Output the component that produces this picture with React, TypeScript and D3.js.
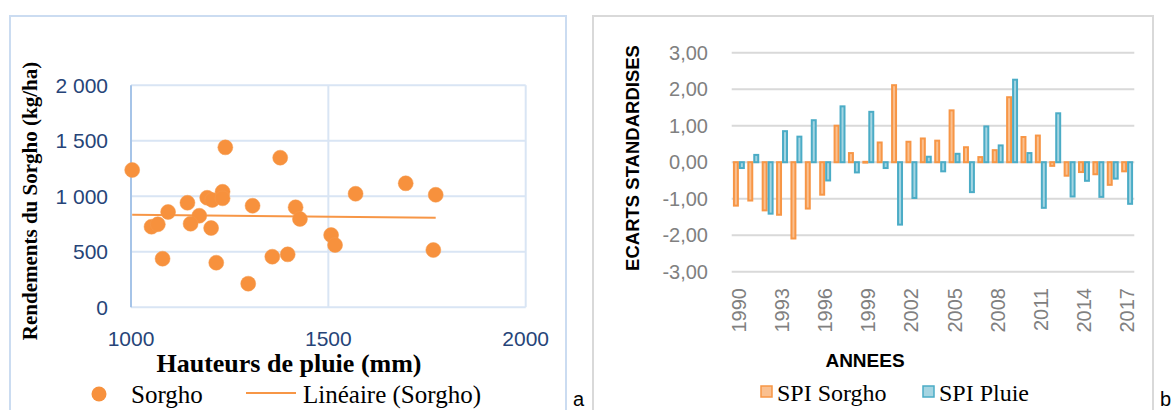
import React from "react";
import * as d3 from "d3";

// ---------- Chart a : scatter ----------
const rainfall = [1003, 1239, 1378, 1143, 1193, 1206, 1232, 1232, 1094, 1173, 1308, 1417, 1428, 1052, 1068, 1151, 1203, 1080, 1216, 1297, 1358, 1397, 1507, 1517, 1569, 1696, 1772, 1766];
const yields = [1236, 1440, 1347, 941, 986, 966, 1040, 981, 858, 824, 914, 900, 795, 725, 747, 752, 713, 437, 401, 212, 455, 476, 650, 560, 1022, 1116, 1013, 515];
const scatterXTicks = [1000, 1500, 2000];
const scatterYTicks = [0, 500, 1000, 1500, 2000];

// ---------- Chart b : bars ----------
const years = d3.range(1990, 2018).map(String);
const spiSorgho = [-1.19, -1.05, -1.32, -1.44, -2.09, -1.27, -0.89, 1.0, 0.25, 0.01, 0.54, 2.11, 0.56, 0.65, 0.59, 1.42, 0.41, 0.14, 0.33, 1.78, 0.69, 0.73, -0.1, -0.37, -0.27, -0.33, -0.62, -0.25];
const spiPluie = [-0.16, 0.2, -1.41, 0.85, 0.7, 1.15, -0.5, 1.53, -0.28, 1.38, -0.16, -1.71, -0.98, 0.15, -0.25, 0.23, -0.82, 0.98, 0.46, 2.26, 0.25, -1.25, 1.34, -0.94, -0.51, -0.95, -0.45, -1.14];
const barYTicks = [3, 2, 1, 0, -1, -2, -3];
const yearLabels = ["1990", "1993", "1996", "1999", "2002", "2005", "2008", "2011", "2014", "2017"];

const ORANGE = "#F79646";
const sans = "'Liberation Sans', Arial, sans-serif";
const serif = "'Liberation Serif', 'Times New Roman', serif";

function frNum(v: number) {
  return v >= 1000 ? `${Math.floor(v / 1000)} ${String(v % 1000).padStart(3, "0")}` : String(v);
}
function frDec(v: number) {
  return v.toFixed(2).replace(".", ",");
}

export default function App() {
  // scatter scales
  const sx = d3.scaleLinear().domain([1000, 2000]).range([131, 525.7]);
  const sy = d3.scaleLinear().domain([0, 2000]).range([307.2, 85.2]);
  const pts = rainfall.map((x, i) => ({ x, y: yields[i] }));
  const mx = d3.mean(rainfall)!;
  const my = d3.mean(yields)!;
  const slope =
    d3.sum(pts, (p) => (p.x - mx) * (p.y - my)) / d3.sum(pts, (p) => (p.x - mx) ** 2);
  const icpt = my - slope * mx;
  const [xmin, xmax] = d3.extent(rainfall) as [number, number];
  const trend = d3.line<number>().x((d) => sx(d)).y((d) => sy(icpt + slope * d))([xmin, xmax]);

  // bar scales
  const bx0 = d3.scaleBand<string>().domain(years).range([731.7, 1134.3]).paddingInner(0.17).paddingOuter(0.085);
  const bx1 = d3.scaleBand<string>().domain(["s", "p"]).range([0, bx0.bandwidth()]);
  const by = d3.scaleLinear().domain([-3, 3]).range([271.7, 52.7]);

  return (
    <svg width={1176} height={410} style={{ position: "absolute", left: 0, top: 0, background: "#fff" }}>
      {/* ===== Chart a ===== */}
      <rect x={10} y={16} width={556} height={420} fill="none" stroke="#CBDCF1" strokeWidth={2} />
      {scatterYTicks.map((t) => (
        <line key={"gy" + t} x1={sx(1000)} x2={sx(2000)} y1={sy(t)} y2={sy(t)} stroke="#D9E5F4" strokeWidth={2} />
      ))}
      {scatterXTicks.slice(1).map((t) => (
        <line key={"gx" + t} x1={sx(t)} x2={sx(t)} y1={sy(0)} y2={sy(2000)} stroke="#D9E5F4" strokeWidth={2} />
      ))}
      <line x1={sx(1000)} x2={sx(1000)} y1={sy(0)} y2={sy(2000)} stroke="#A6C4E8" strokeWidth={2} />
      {scatterYTicks.map((t) => (
        <text key={"ty" + t} x={108} y={sy(t)} dy="0.35em" textAnchor="end" fontFamily={sans} fontSize={21} fill="#264478">
          {frNum(t)}
        </text>
      ))}
      {scatterXTicks.map((t) => (
        <text key={"tx" + t} x={sx(t)} y={339} dy="0.35em" textAnchor="middle" fontFamily={sans} fontSize={21} fill="#264478">
          {t}
        </text>
      ))}
      <path d={trend || ""} fill="none" stroke={ORANGE} strokeWidth={2} />
      {pts.map((p, i) => (
        <circle key={"p" + i} cx={sx(p.x)} cy={sy(p.y)} r={7.5} fill="#F7913D" stroke="#F59A4E" strokeWidth={0.5} />
      ))}
      <text transform="translate(30,201) rotate(-90)" dy="0.35em" textAnchor="middle" fontFamily={serif} fontWeight="bold" fontSize={21}>
        Rendements du Sorgho (kg/ha)
      </text>
      <text x={289} y={363} dy="0.35em" textAnchor="middle" fontFamily={serif} fontWeight="bold" fontSize={26}>
        Hauteurs de pluie (mm)
      </text>
      <circle cx={99} cy={394} r={7.5} fill="#F7913D" />
      <text x={131} y={394} dy="0.35em" fontFamily={serif} fontSize={25}>Sorgho</text>
      <line x1={246} x2={296} y1={393} y2={393} stroke={ORANGE} strokeWidth={2} />
      <text x={303} y={394} dy="0.35em" fontFamily={serif} fontSize={25}>Linéaire (Sorgho)</text>
      <text x={573} y={406} fontFamily={sans} fontSize={20}>a</text>

      {/* ===== Chart b ===== */}
      <rect x={593} y={16} width={560} height={420} fill="none" stroke="#D9D9D9" strokeWidth={2} />
      {barYTicks.map((t) => (
        <line key={"bg" + t} x1={731.7} x2={1134.3} y1={by(t)} y2={by(t)} stroke="#D9D9D9" strokeWidth={2} />
      ))}
      {barYTicks.map((t) => (
        <text key={"bt" + t} x={708} y={by(t)} dy="0.35em" textAnchor="end" fontFamily={sans} fontSize={20} fill="#808080">
          {frDec(t)}
        </text>
      ))}
      {years.map((yr, i) => {
        const x0 = bx0(yr)!;
        const vals: [string, number, string, string][] = [
          ["s", spiSorgho[i], "#FAC090", "#F79646"],
          ["p", spiPluie[i], "#A5D5E2", "#4BACC6"],
        ];
        return (
          <g key={yr}>
            {vals.map(([k, v, fill, stroke]) => {
              const y0 = by(Math.max(0, v));
              const h = Math.max(0.8, Math.abs(by(v) - by(0)));
              return (
                <rect key={k} x={x0 + bx1(k)! + 1} y={y0} width={bx1.bandwidth() - 2} height={h} fill={fill} stroke={stroke} strokeWidth={2} />
              );
            })}
          </g>
        );
      })}
      {yearLabels.map((yr) => (
        <text key={"yl" + yr} transform={`translate(${bx0(yr)! + bx0.bandwidth() / 2},288) rotate(-90)`} dy="0.35em" textAnchor="end" fontFamily={sans} fontSize={20} fill="#808080">
          {yr}
        </text>
      ))}
      <text transform="translate(633,158) rotate(-90)" dy="0.35em" textAnchor="middle" fontFamily={sans} fontWeight="bold" fontSize={18.5}>
        ECARTS STANDARDISES
      </text>
      <text x={865} y={360} dy="0.35em" textAnchor="middle" fontFamily={sans} fontWeight="bold" fontSize={19}>
        ANNEES
      </text>
      <rect x={761} y={386} width={11} height={11} fill="#FAC090" stroke="#F79646" strokeWidth={1.5} />
      <text x={777} y={393} dy="0.35em" fontFamily={serif} fontSize={24}>SPI Sorgho</text>
      <rect x={923} y={386} width={11} height={11} fill="#A5D5E2" stroke="#4BACC6" strokeWidth={1.5} />
      <text x={939} y={393} dy="0.35em" fontFamily={serif} fontSize={24}>SPI Pluie</text>
      <text x={1160} y={406} fontFamily={sans} fontSize={20}>b</text>
    </svg>
  );
}
